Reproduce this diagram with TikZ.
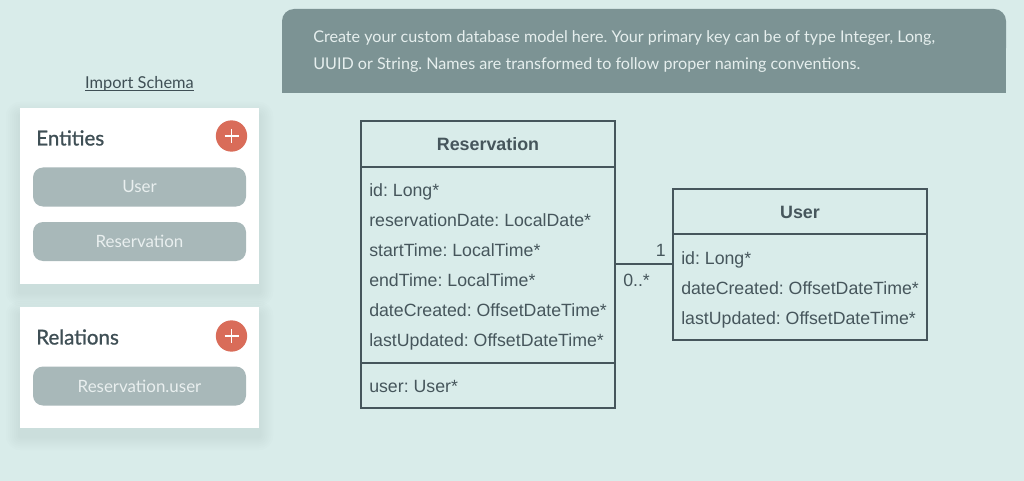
\documentclass[tikz,border=0pt]{standalone}
\usepackage{fontspec}
\setmainfont{Liberation Sans}
\newfontfamily\uifont{Lato}
\newfontfamily\uititlefont[FakeBold=1.0]{Lato}
\frenchspacing
\definecolor{bgc}{HTML}{D9ECEA}
\definecolor{bannerc}{HTML}{7C9394}
\definecolor{btnc}{HTML}{A8B8B9}
\definecolor{inkc}{HTML}{3F4F55}
\definecolor{umlc}{HTML}{46565C}
\definecolor{redc}{HTML}{D96C59}
\definecolor{bannertxt}{HTML}{E6EFEE}
\definecolor{btntxt}{HTML}{E9EFEF}
\tikzset{
  x=0.75pt,y=-0.75pt,
  softshadow/.style={fill=bannerc,fill opacity=0.02,draw=none},
  btn/.style={fill=btnc,rounded corners=7.5pt,draw=none,anchor=center,minimum width=159.75pt,minimum height=29.25pt,inner sep=0,text=btntxt,font=\uifont\fontsize{12.7pt}{14pt}\selectfont},
  cardtitle/.style={anchor=west,inner sep=0,text=inkc,font=\uititlefont\fontsize{15.4pt}{17pt}\selectfont},
  addbtn/.style={circle,fill=redc,draw=none,minimum size=23.5pt,inner sep=0},
  umlbox/.style={draw=umlc,line width=1.4pt,fill=none},
  umltitle/.style={anchor=center,inner sep=0,text=umlc,font=\fontsize{13.4pt}{15pt}\selectfont\bfseries},
  umlattr/.style={anchor=base west,inner sep=0,text=umlc,font=\fontsize{13.3pt}{15pt}\selectfont},
  umlline/.style={draw=umlc,line width=1.4pt},
  bannertext/.style={anchor=base west,inner sep=0,text=bannertxt,font=\uifont\fontsize{12.1pt}{14pt}\selectfont},
}
\begin{document}
\begin{tikzpicture}
\useasboundingbox (0,0) rectangle (1024,481);
\fill[bgc] (0,0) rectangle (1024,481);
% banner
\fill[bannerc,rounded corners=9pt] (282,60) -- (282,9) -- (1006,9) -- (1006,60) -- cycle;
\fill[bannerc] (282,40) rectangle (1006,93);
\node[bannertext] (b1) at (313,43) {Create your custom database model here. Your primary key can be of type Integer, Long,};
\node[bannertext] (b2) at (313,70) {UUID or String. Names are transformed to follow proper naming conventions.};
% import link
\node[anchor=center,inner sep=0,text=inkc,font=\uifont\fontsize{12.3pt}{14pt}\selectfont] (imp) at (139.5,84) {Import Schema};
\draw[inkc,line width=0.6pt] (85,90.5) -- (194,90.5);
% card shadows
\foreach \d in {14,12,10,8,6,4,2}{
  \fill[softshadow,rounded corners=\d*0.75pt] (20-\d,108+8-\d) rectangle (259+\d,284+8+\d);
  \fill[softshadow,rounded corners=\d*0.75pt] (20-\d,307+8-\d) rectangle (259+\d,428+8+\d);
}
% entities
\fill[white] (20,108) rectangle (259,284);
\node[cardtitle] (ent) at (36,138) {Entities};
\node[addbtn] (addE) at (231.5,136) {};
\draw[white,line width=1.3pt] (224.5,136) -- (238.5,136) (231.5,129) -- (231.5,143);
\node[btn] (btnU) at (139.5,187) {\raisebox{-0.5pt}{User}};
\node[btn] (btnR) at (139.5,241.5) {Reservation};
% relations
\fill[white] (20,307) rectangle (259,428);
\node[cardtitle] (rel) at (36,337) {Relations};
\node[addbtn] (addR) at (231.5,336) {};
\draw[white,line width=1.3pt] (224.5,336) -- (238.5,336) (231.5,329) -- (231.5,343);
\node[btn] (btnRU) at (139.5,386) {Reservation.user};
% Reservation box
\draw[umlbox] (361,121) rectangle (615,408);
\draw[umlline] (361,167) -- (615,167);
\draw[umlline] (361,363) -- (615,363);
\coordinate (resE) at (615,264);
\node[umltitle] (resT) at (488,144) {Reservation};
\node[umlattr] at (369,196) {id: Long*};
\node[umlattr] at (369,226) {reservationDate: LocalDate*};
\node[umlattr] at (369,256) {startTime: LocalTime*};
\node[umlattr] at (369,286) {endTime: LocalTime*};
\node[umlattr] at (369,316) {dateCreated: OffsetDateTime*};
\node[umlattr] at (369,346) {lastUpdated: OffsetDateTime*};
\node[umlattr] at (369,392) {user: User*};
% User box
\draw[umlbox] (673,189) rectangle (927,340);
\draw[umlline] (673,234) -- (927,234);
\coordinate (usrW) at (673,264);
\node[umltitle] (usrT) at (800,212) {User};
\node[umlattr] at (681,264) {id: Long*};
\node[umlattr] at (681,294) {dateCreated: OffsetDateTime*};
\node[umlattr] at (681,324) {lastUpdated: OffsetDateTime*};
% connector
\draw[umlline] (resE) -- (usrW);
\node[umlattr] at (655.5,256) {1};
\node[umlattr] at (623,286) {0..*};
\end{tikzpicture}
\end{document}
